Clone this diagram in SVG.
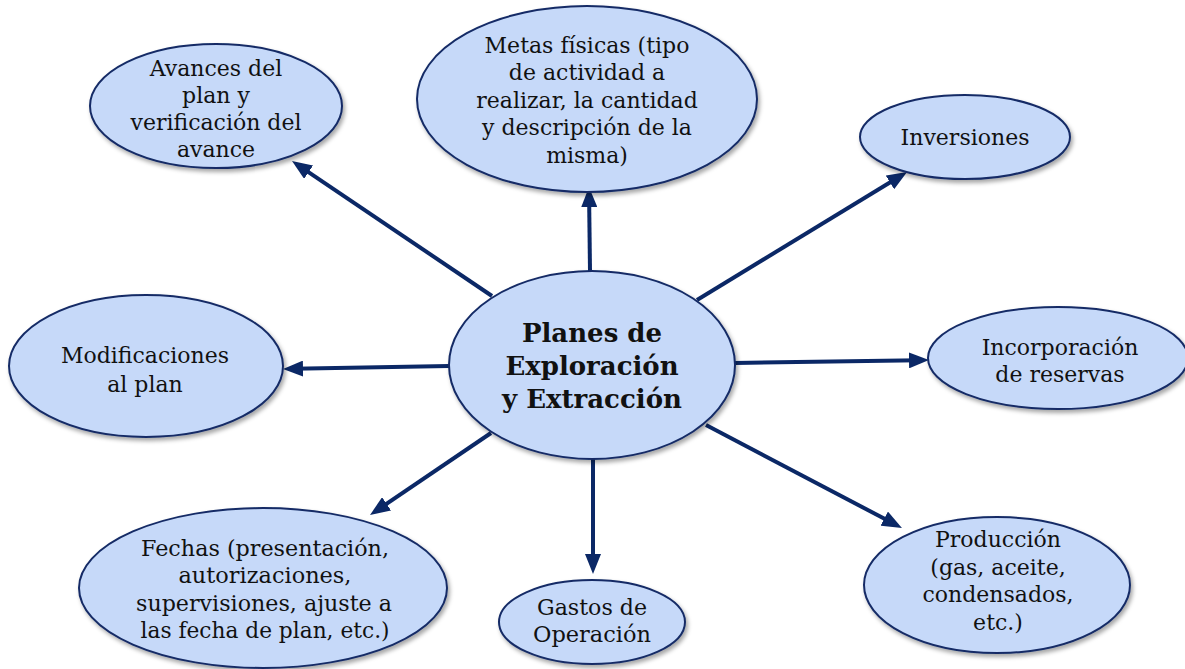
<svg xmlns="http://www.w3.org/2000/svg" width="1185" height="669" viewBox="0 0 1185 669">
<defs>
<filter id="sh" x="-10%" y="-10%" width="125%" height="130%">
<feDropShadow dx="2" dy="3" stdDeviation="2" flood-color="#000" flood-opacity="0.35"/>
</filter>
<marker id="ah" viewBox="0 0 20 16" markerWidth="20" markerHeight="16" refX="10" refY="8" orient="auto" markerUnits="userSpaceOnUse">
<path d="M0,0 L20,8 L0,16 z" fill="#0b2866"/>
</marker>
<style>
.n{fill:#c6d9f9;stroke:#142c66;stroke-width:2;filter:url(#sh)}
.c line{stroke:#0b2866;stroke-width:4;marker-end:url(#ah)}
.t{font-family:"DejaVu Serif","Liberation Serif",serif;font-size:22px;fill:#111;text-anchor:middle}
.b{font-family:"DejaVu Serif","Liberation Serif",serif;font-size:26px;font-weight:bold;fill:#111;text-anchor:middle}
</style>
</defs>
<rect width="1185" height="669" fill="#fff"/>
<g id="connectors" class="c">
<line x1="492" y1="296" x2="300.3" y2="166.6"/>
<line x1="590" y1="271" x2="589.1" y2="197"/>
<line x1="697" y1="300" x2="898.5" y2="177.2"/>
<line x1="735" y1="363" x2="919" y2="360.2"/>
<line x1="449" y1="366" x2="293" y2="368.8"/>
<line x1="491" y1="433" x2="378.3" y2="509.4"/>
<line x1="593" y1="459" x2="593" y2="564"/>
<line x1="706" y1="425" x2="893.1" y2="523.3"/>
</g>
<g id="center">
<ellipse class="n" cx="592" cy="365" rx="143" ry="94"/>
<text class="b" x="592" y="342">Planes de</text>
<text class="b" x="592" y="375">Exploración</text>
<text class="b" x="592" y="408">y Extracción</text>
</g>
<g id="avances">
<ellipse class="n" cx="216" cy="106" rx="126" ry="62"/>
<text class="t" x="216" y="76">Avances del</text>
<text class="t" x="216" y="103">plan y</text>
<text class="t" x="216" y="130">verificación del</text>
<text class="t" x="216" y="157">avance</text>
</g>
<g id="metas">
<ellipse class="n" cx="587" cy="99" rx="170" ry="93"/>
<text class="t" x="587" y="53">Metas físicas (tipo</text>
<text class="t" x="587" y="80">de actividad a</text>
<text class="t" x="587" y="108">realizar, la cantidad</text>
<text class="t" x="587" y="135">y descripción de la</text>
<text class="t" x="587" y="163">misma)</text>
</g>
<g id="inversiones">
<ellipse class="n" cx="965" cy="137" rx="105" ry="42"/>
<text class="t" x="965" y="145">Inversiones</text>
</g>
<g id="incorporacion">
<ellipse class="n" cx="1058" cy="358" rx="130" ry="51"/>
<text class="t" x="1060" y="355">Incorporación</text>
<text class="t" x="1060" y="382">de reservas</text>
</g>
<g id="modificaciones">
<ellipse class="n" cx="146" cy="366" rx="137" ry="71"/>
<text class="t" x="145" y="363">Modificaciones</text>
<text class="t" x="145" y="392">al plan</text>
</g>
<g id="fechas">
<ellipse class="n" cx="263" cy="588" rx="184" ry="80"/>
<text class="t" x="265" y="556" textLength="248" lengthAdjust="spacingAndGlyphs">Fechas (presentación,</text>
<text class="t" x="265" y="583" textLength="173" lengthAdjust="spacingAndGlyphs">autorizaciones,</text>
<text class="t" x="264" y="611" textLength="256" lengthAdjust="spacingAndGlyphs">supervisiones, ajuste a</text>
<text class="t" x="265" y="638" textLength="249" lengthAdjust="spacingAndGlyphs">las fecha de plan, etc.)</text>
</g>
<g id="gastos">
<ellipse class="n" cx="592" cy="622" rx="93" ry="42"/>
<text class="t" x="592" y="615" textLength="110" lengthAdjust="spacingAndGlyphs">Gastos de</text>
<text class="t" x="592" y="642" textLength="118" lengthAdjust="spacingAndGlyphs">Operación</text>
</g>
<g id="produccion">
<ellipse class="n" cx="997" cy="585" rx="133" ry="68"/>
<text class="t" x="998" y="547">Producción</text>
<text class="t" x="998" y="575">(gas, aceite,</text>
<text class="t" x="998" y="602">condensados,</text>
<text class="t" x="998" y="630">etc.)</text>
</g>
</svg>
